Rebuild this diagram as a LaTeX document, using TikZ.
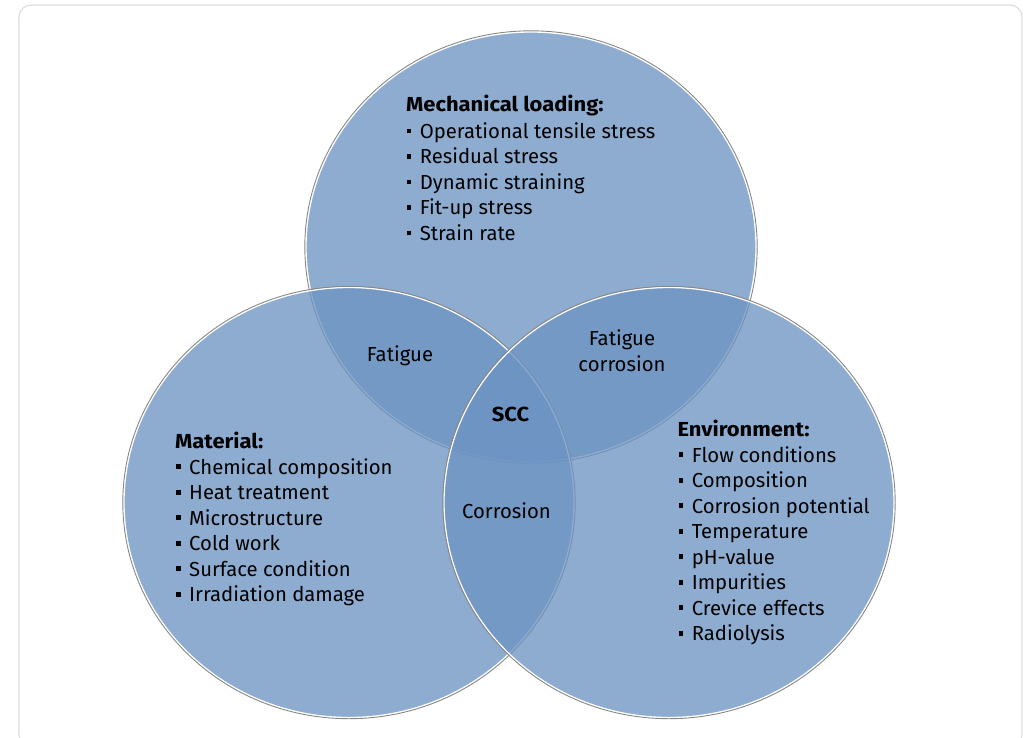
\documentclass[tikz,border=0pt]{standalone}
\usepackage{fontspec}
\setmainfont{Fira Sans}
\newfontfamily\headfont{Fira Sans}[FakeStretch=1.08]
\usetikzlibrary{shapes.geometric}
\definecolor{vennK}{RGB}{108,147,194}
\definecolor{frameC}{RGB}{221,221,221}
\definecolor{rimC}{RGB}{135,135,135}
\newcommand\bul{\makebox[13.3pt][l]{\rule[4.9pt]{4.8pt}{4.8pt}}}
\begin{document}
\begin{tikzpicture}[x=1pt,y=-1pt,
  venn/.style={ellipse, inner sep=0pt, minimum width=450pt, minimum height=430pt,
               fill=vennK, fill opacity=0.77, draw=white, line width=1.3pt},
  rim/.style={draw=rimC, line width=0.9pt},
  txt/.style={inner sep=0pt, anchor=base west, font=\fontsize{20.3}{24}\selectfont},
  head/.style={txt, font=\fontsize{20.3}{24}\selectfont\headfont\bfseries},
  lab/.style={inner sep=0pt, anchor=base, font=\fontsize{20.3}{24}\selectfont},
  framebox/.style={draw=frameC, line width=1.2pt, rounded corners=12pt},
]
\useasboundingbox (0,0) rectangle (1027,737);
\draw[framebox] (19,5) rectangle (1022,747);

% circles
\node[venn] (mech) at (531,247) {};
\draw[rim] (mech.center) ellipse [x radius=226.2, y radius=216.2];
\node[venn] (mat) at (349,502.5) {};
\draw[rim] (mat.center) ellipse [x radius=226.2, y radius=216.2];
\node[venn] (env) at (669,502.5) {};
\draw[rim] (env.center) ellipse [x radius=226.2, y radius=216.2];

% top block
\node[head] (mechH) at (406,111.7) {Mechanical loading:};
\foreach \t [count=\i] in {Operational tensile stress, Residual stress, Dynamic straining, Fit-up stress, Strain rate}
  \node[txt] (mech\i) at (406.3,{138.3+25.5*(\i-1)}) {\bul\t};

% left block
\node[head] (matH) at (175,448) {Material:};
\foreach \t [count=\i] in {Chemical composition, Heat treatment, Microstructure, Cold work, Surface condition, Irradiation damage}
  \node[txt] (mat\i) at (175.7,{474+25.5*(\i-1)}) {\bul\t};

% right block
\node[head] (envH) at (677.3,436) {Environment:};
\foreach \t [count=\i] in {Flow conditions, Composition, Corrosion potential, Temperature, pH-value, Impurities, Crevice effects, Radiolysis}
  \node[txt] (env\i) at (678.3,{462+25.5*(\i-1)}) {\bul\t};

% overlap labels
\node[lab] (fat) at (400,361) {Fatigue};
\node[lab] (fc1) at (622,345.7) {Fatigue};
\node[lab] (fc2) at (622,371) {corrosion};
\node[lab, font=\fontsize{20.3}{24}\selectfont\headfont\bfseries] (scc) at (510.5,421.7) {SCC};
\node[lab] (cor) at (506.5,518) {Corrosion};
\end{tikzpicture}
\end{document}
